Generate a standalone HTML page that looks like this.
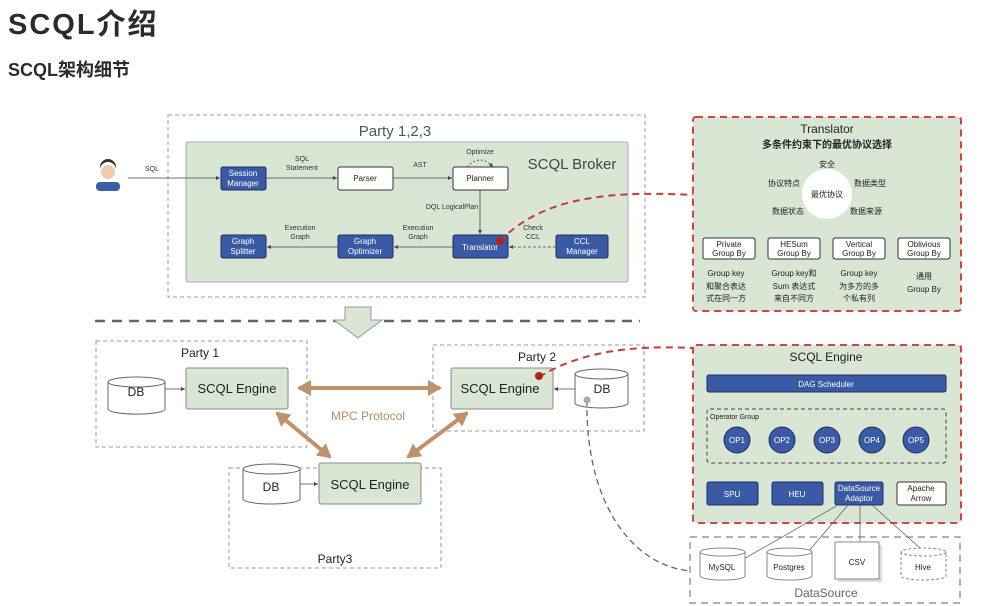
<!DOCTYPE html>
<html><head><meta charset="utf-8"><style>
html,body{margin:0;padding:0;background:#fff;width:1006px;height:606px;overflow:hidden}
svg{display:block}
text{font-family:"Liberation Sans","Noto Sans CJK SC",sans-serif}
</style></head><body>
<svg width="1006" height="606" viewBox="0 0 1006 606" xmlns="http://www.w3.org/2000/svg">
<defs>
<marker id="a" markerWidth="6" markerHeight="6" refX="5" refY="3" orient="auto"><path d="M0,0.5 L5,3 L0,5.5z" fill="#444"/></marker>
<marker id="b" markerWidth="4" markerHeight="4" refX="3" refY="2" orient="auto-start-reverse"><path d="M0,0 L3.5,2 L0,4z" fill="#c0926c"/></marker>
</defs>
<text x="8" y="34" font-size="29" font-weight="bold" fill="#2b2b2b" letter-spacing="2" font-family="Liberation Sans,Noto Sans CJK SC,sans-serif">SCQL介绍</text>
<text x="8" y="76" font-size="18" font-weight="bold" fill="#2b2b2b" font-family="Liberation Sans,Noto Sans CJK SC,sans-serif">SCQL架构细节</text>

<!-- Broker -->
<rect x="168" y="115" width="477" height="182" fill="none" stroke="#999" stroke-dasharray="4,3"/>
<text x="395" y="136" font-size="15" fill="#555" text-anchor="middle">Party 1,2,3</text>
<rect x="186" y="142" width="442" height="140" rx="2" fill="#d8e6d3" stroke="#aab"/>
<text x="572" y="169" font-size="15" fill="#444" text-anchor="middle">SCQL Broker</text>
<circle cx="108" cy="172" r="7" fill="#f2c9b0"/><path d="M100,170 a8,8 0 0 1 16,0 l0,-3 a8,8 0 0 0 -16,0z" fill="#333"/>
<rect x="96" y="182" width="24" height="9" rx="4" fill="#3a5ea8"/>
<text x="145" y="171" font-size="7" fill="#333">SQL</text>
<g stroke="#444" stroke-width="0.8" fill="none" marker-end="url(#a)">
<line x1="128" y1="178" x2="220" y2="178"/>
<line x1="266" y1="178" x2="337" y2="178"/>
<line x1="393" y1="178" x2="452" y2="178"/>
<line x1="480" y1="190" x2="480" y2="234"/>
<line x1="453" y1="247" x2="394" y2="247"/>
<line x1="338" y1="247" x2="267" y2="247"/>
<line x1="556" y1="247" x2="509" y2="247" stroke-dasharray="3,2"/>
<path d="M467,167 Q480,153 493,167" stroke-dasharray="2,2"/>
</g>
<g font-size="7" fill="#333" text-anchor="middle">
<text x="302" y="161">SQL</text><text x="302" y="170">Statement</text>
<text x="420" y="167">AST</text>
<text x="480" y="154">Optimize</text>
<text x="452" y="209">DQL LogicalPlan</text>
<text x="300" y="230">Execution</text><text x="300" y="239">Graph</text>
<text x="418" y="230">Execution</text><text x="418" y="239">Graph</text>
<text x="533" y="230">Check</text><text x="533" y="239">CCL</text>
</g>
<g stroke="#1d2f66" stroke-width="1">
<rect x="221" y="167" width="45" height="23" rx="2" fill="#3a5aa6"/>
<rect x="453" y="235" width="55" height="23" rx="2" fill="#3a5aa6"/>
<rect x="556" y="235" width="52" height="23" rx="2" fill="#3a5aa6"/>
<rect x="338" y="235" width="55" height="23" rx="2" fill="#3a5aa6"/>
<rect x="221" y="235" width="45" height="23" rx="2" fill="#3a5aa6"/>
</g>
<rect x="338" y="167" width="55" height="23" rx="2" fill="#fff" stroke="#333"/>
<rect x="453" y="167" width="55" height="23" rx="2" fill="#fff" stroke="#333"/>
<g font-size="8" fill="#fff" text-anchor="middle">
<text x="243" y="176">Session</text><text x="243" y="186">Manager</text>
<text x="480" y="250">Translator</text>
<text x="582" y="244">CCL</text><text x="582" y="254">Manager</text>
<text x="365" y="244">Graph</text><text x="365" y="254">Optimizer</text>
<text x="243" y="244">Graph</text><text x="243" y="254">Splitter</text>
</g>
<g font-size="8" fill="#222" text-anchor="middle"><text x="365" y="181">Parser</text><text x="480" y="181">Planner</text></g>

<!-- divider -->
<line x1="95" y1="321" x2="640" y2="321" stroke="#666" stroke-width="2.5" stroke-dasharray="10,7"/>
<path d="M345,307 L371,307 L371,320 L382,320 L358,338 L334,320 L345,320z" fill="#d8e6d3" stroke="#999"/>

<!-- parties -->
<g fill="none" stroke="#999" stroke-dasharray="4,3">
<rect x="96" y="341" width="211" height="106"/>
<rect x="433" y="345" width="211" height="86"/>
<rect x="229" y="468" width="212" height="100"/>
</g>
<g font-size="12" fill="#222" text-anchor="middle">
<text x="200" y="357">Party 1</text><text x="537" y="361">Party 2</text><text x="335" y="563">Party3</text>
</g>
<g fill="#fff" stroke="#666">
<path d="M108,382 v27 a28,5 0 0 0 57,0 v-27"/><ellipse cx="136.5" cy="382" rx="28.5" ry="5"/>
<path d="M575,374 v29 a26.5,5 0 0 0 53,0 v-29"/><ellipse cx="601.5" cy="374" rx="26.5" ry="5"/>
<path d="M243,469 v30 a28.5,5 0 0 0 57,0 v-30"/><ellipse cx="271.5" cy="469" rx="28.5" ry="5"/>
</g>
<g font-size="12" fill="#222" text-anchor="middle"><text x="136" y="396">DB</text><text x="602" y="393">DB</text><text x="271" y="491">DB</text></g>
<g fill="#d8e6d3" stroke="#888">
<rect x="186" y="368" width="102" height="41" rx="2"/>
<rect x="451" y="368" width="102" height="41" rx="2"/>
<rect x="319" y="463" width="102" height="41" rx="2"/>
</g>
<g font-size="13" fill="#222" text-anchor="middle">
<text x="237" y="393">SCQL Engine</text><text x="500" y="393">SCQL Engine</text><text x="370" y="489">SCQL Engine</text>
</g>
<g stroke="#444" stroke-width="0.8" marker-end="url(#a)"><line x1="165" y1="389" x2="185" y2="389"/><line x1="575" y1="389" x2="554" y2="389"/><line x1="300" y1="484" x2="318" y2="484"/></g>
<g stroke="#c0926c" stroke-width="4" marker-end="url(#b)" marker-start="url(#b)">
<line x1="299" y1="388" x2="440" y2="388"/>
<line x1="277" y1="413" x2="330" y2="457"/>
<line x1="467" y1="413" x2="408" y2="457"/>
</g>
<text x="368" y="420" font-size="12" fill="#b78a68" text-anchor="middle">MPC Protocol</text>

<!-- connectors -->
<path d="M500,241 C540,200 600,190 693,195" fill="none" stroke="#c83a35" stroke-width="2" stroke-dasharray="7,5"/>
<circle cx="500" cy="241" r="4" fill="#b8201e"/>
<path d="M539,377 C580,352 630,345 693,348" fill="none" stroke="#c83a35" stroke-width="2" stroke-dasharray="7,5"/>
<circle cx="539" cy="376" r="4" fill="#b8201e"/>
<path d="M587,400 C585,500 630,565 690,571" fill="none" stroke="#666" stroke-width="1.3" stroke-dasharray="6,4"/>
<circle cx="587" cy="400" r="3.5" fill="#aaa"/>

<!-- Translator panel -->
<rect x="693" y="117" width="268" height="194" rx="3" fill="#d8e6d3" stroke="#d04640" stroke-width="2" stroke-dasharray="7,5"/>
<text x="827" y="133" font-size="12" fill="#222" text-anchor="middle">Translator</text>
<text x="827" y="148" font-size="10" font-weight="bold" fill="#222" text-anchor="middle">多条件约束下的最优协议选择</text>
<circle cx="827" cy="194" r="25" fill="#fff"/>
<g font-size="8" fill="#222" text-anchor="middle">
<text x="827" y="167">安全</text><text x="827" y="197">最优协议</text>
<text x="784" y="186">协议特点</text><text x="870" y="186">数据类型</text>
<text x="788" y="214">数据状态</text><text x="866" y="214">数据来源</text>
</g>
<g fill="#fff" stroke="#333">
<rect x="703" y="238" width="52" height="21" rx="2"/><rect x="768" y="238" width="52" height="21" rx="2"/>
<rect x="833" y="238" width="52" height="21" rx="2"/><rect x="898" y="238" width="52" height="21" rx="2"/>
</g>
<g font-size="8" fill="#222" text-anchor="middle">
<text x="729" y="247">Private</text><text x="729" y="256">Group By</text>
<text x="794" y="247">HESum</text><text x="794" y="256">Group By</text>
<text x="859" y="247">Vertical</text><text x="859" y="256">Group By</text>
<text x="924" y="247">Oblivious</text><text x="924" y="256">Group By</text>
<text x="726" y="276">Group key</text><text x="726" y="289">和聚合表达</text><text x="726" y="301">式在同一方</text>
<text x="794" y="276">Group key和</text><text x="794" y="289">Sum 表达式</text><text x="794" y="301">来自不同方</text>
<text x="859" y="276">Group key</text><text x="859" y="289">为多方的多</text><text x="859" y="301">个私有列</text>
<text x="924" y="279">通用</text><text x="924" y="292">Group By</text>
</g>

<!-- Engine panel -->
<rect x="693" y="345" width="268" height="178" rx="3" fill="#d8e6d3" stroke="#d04640" stroke-width="2" stroke-dasharray="7,5"/>
<text x="826" y="361" font-size="12" fill="#222" text-anchor="middle">SCQL Engine</text>
<rect x="707" y="375" width="239" height="17" rx="2" fill="#3a5aa6" stroke="#1d2f66"/>
<text x="826" y="387" font-size="8" fill="#fff" text-anchor="middle">DAG Scheduler</text>
<rect x="707" y="409" width="239" height="54" rx="3" fill="none" stroke="#444" stroke-dasharray="4,3"/>
<text x="710" y="419" font-size="7" fill="#222">Operator Group</text>
<g fill="#3a5aa6" stroke="#1d2f66"><circle cx="737" cy="440" r="13"/><circle cx="782" cy="440" r="13"/><circle cx="827" cy="440" r="13"/><circle cx="872" cy="440" r="13"/><circle cx="916" cy="440" r="13"/></g>
<g font-size="8" fill="#fff" text-anchor="middle"><text x="737" y="443">OP1</text><text x="782" y="443">OP2</text><text x="827" y="443">OP3</text><text x="872" y="443">OP4</text><text x="916" y="443">OP5</text></g>
<g fill="#3a5aa6" stroke="#1d2f66"><rect x="707" y="482" width="51" height="23" rx="2"/><rect x="772" y="482" width="51" height="23" rx="2"/><rect x="835" y="482" width="48" height="23" rx="2"/></g>
<rect x="897" y="482" width="49" height="23" rx="2" fill="#fff" stroke="#333"/>
<g font-size="8" fill="#fff" text-anchor="middle"><text x="732" y="497">SPU</text><text x="797" y="497">HEU</text><text x="859" y="491">DataSource</text><text x="859" y="501">Adaptor</text></g>
<g font-size="8" fill="#222" text-anchor="middle"><text x="921" y="491">Apache</text><text x="921" y="501">Arrow</text></g>

<!-- DataSource -->
<rect x="690" y="537" width="270" height="66" fill="none" stroke="#666" stroke-dasharray="7,5"/>
<g stroke="#666" stroke-width="0.8">
<line x1="838" y1="505" x2="742" y2="560"/><line x1="848" y1="505" x2="808" y2="552"/><line x1="860" y1="505" x2="860" y2="545"/><line x1="872" y1="505" x2="920" y2="548"/>
</g>
<g fill="#fff" stroke="#888">
<path d="M700,552 v24 a22.5,4 0 0 0 45,0 v-24"/><ellipse cx="722.5" cy="552" rx="22.5" ry="4"/>
<path d="M767,552 v24 a22.5,4 0 0 0 45,0 v-24"/><ellipse cx="789.5" cy="552" rx="22.5" ry="4"/>
<rect x="838" y="545" width="44" height="37" fill="#ddd" stroke="none"/>
<rect x="835" y="542" width="44" height="37"/>
<path d="M901,552 v24 a22.5,4 0 0 0 45,0 v-24" stroke-dasharray="3,2"/><ellipse cx="923.5" cy="552" rx="22.5" ry="4" stroke-dasharray="3,2"/>
</g>
<g font-size="8" fill="#222" text-anchor="middle"><text x="722" y="570">MySQL</text><text x="789" y="570">Postgres</text><text x="857" y="565">CSV</text><text x="923" y="570">Hive</text></g>
<text x="826" y="597" font-size="12" fill="#666" text-anchor="middle">DataSource</text>
</svg>
</body></html>
